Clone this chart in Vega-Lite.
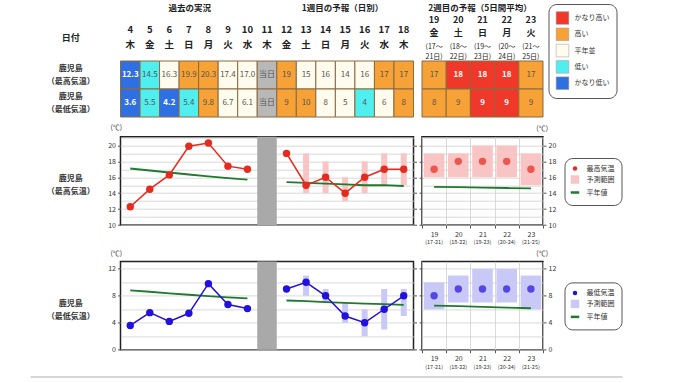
{
 "$schema": "https://vega.github.io/schema/vega-lite/v6.json",
 "autosize": {"type": "none"},
 "padding": {"left": 30, "top": 61, "right": 650, "bottom": 322},
 "background": "white",
 "config": {
  "font": "Noto Sans CJK JP",
  "view": {"stroke": null},
  "axis": {"labelFont": "Noto Sans CJK JP", "titleFont": "Noto Sans CJK JP", "labelColor": "#333", "tickColor": "#555", "titleColor": "#222", "gridColor": "#d0d0d0", "gridWidth": 0.8},
  "legend": {"labelFont": "Noto Sans CJK JP"},
  "title": {"font": "Noto Sans CJK JP"},
  "text": {"font": "Noto Sans CJK JP"}
 },
 "datasets": {
  "rowlab": [
   {"row": "max", "label": "鹿児島\n（最高気温）"},
   {"row": "min", "label": "鹿児島\n（最低気温）"}
  ],
  "cells1": [
   {"day": 4, "row": "max", "label": "12.3", "cat": "かなり低い"},
   {"day": 5, "row": "max", "label": "14.5", "cat": "低い"},
   {"day": 6, "row": "max", "label": "16.3", "cat": "平年並"},
   {"day": 7, "row": "max", "label": "19.9", "cat": "高い"},
   {"day": 8, "row": "max", "label": "20.3", "cat": "高い"},
   {"day": 9, "row": "max", "label": "17.4", "cat": "平年並"},
   {"day": 10, "row": "max", "label": "17.0", "cat": "平年並"},
   {"day": 11, "row": "max", "label": "当日", "cat": "当日"},
   {"day": 12, "row": "max", "label": "19", "cat": "高い"},
   {"day": 13, "row": "max", "label": "15", "cat": "平年並"},
   {"day": 14, "row": "max", "label": "16", "cat": "平年並"},
   {"day": 15, "row": "max", "label": "14", "cat": "平年並"},
   {"day": 16, "row": "max", "label": "16", "cat": "平年並"},
   {"day": 17, "row": "max", "label": "17", "cat": "高い"},
   {"day": 18, "row": "max", "label": "17", "cat": "高い"},
   {"day": 4, "row": "min", "label": "3.6", "cat": "かなり低い"},
   {"day": 5, "row": "min", "label": "5.5", "cat": "低い"},
   {"day": 6, "row": "min", "label": "4.2", "cat": "かなり低い"},
   {"day": 7, "row": "min", "label": "5.4", "cat": "低い"},
   {"day": 8, "row": "min", "label": "9.8", "cat": "高い"},
   {"day": 9, "row": "min", "label": "6.7", "cat": "平年並"},
   {"day": 10, "row": "min", "label": "6.1", "cat": "平年並"},
   {"day": 11, "row": "min", "label": "当日", "cat": "当日"},
   {"day": 12, "row": "min", "label": "9", "cat": "高い"},
   {"day": 13, "row": "min", "label": "10", "cat": "高い"},
   {"day": 14, "row": "min", "label": "8", "cat": "平年並"},
   {"day": 15, "row": "min", "label": "5", "cat": "平年並"},
   {"day": 16, "row": "min", "label": "4", "cat": "低い"},
   {"day": 17, "row": "min", "label": "6", "cat": "平年並"},
   {"day": 18, "row": "min", "label": "8", "cat": "高い"}
  ],
  "cells2": [
   {"day": 19, "row": "max", "label": "17", "cat": "高い"},
   {"day": 20, "row": "max", "label": "18", "cat": "かなり高い"},
   {"day": 21, "row": "max", "label": "18", "cat": "かなり高い"},
   {"day": 22, "row": "max", "label": "18", "cat": "かなり高い"},
   {"day": 23, "row": "max", "label": "17", "cat": "高い"},
   {"day": 19, "row": "min", "label": "8", "cat": "高い"},
   {"day": 20, "row": "min", "label": "9", "cat": "高い"},
   {"day": 21, "row": "min", "label": "9", "cat": "かなり高い"},
   {"day": 22, "row": "min", "label": "9", "cat": "かなり高い"},
   {"day": 23, "row": "min", "label": "9", "cat": "高い"}
  ],
  "max1": [
   {"day": 4, "part": "obs", "t": 12.3, "norm": 17.1},
   {"day": 5, "part": "obs", "t": 14.5, "norm": 16.85},
   {"day": 6, "part": "obs", "t": 16.3, "norm": 16.6},
   {"day": 7, "part": "obs", "t": 19.9, "norm": 16.35},
   {"day": 8, "part": "obs", "t": 20.3, "norm": 16.1},
   {"day": 9, "part": "obs", "t": 17.4, "norm": 15.9},
   {"day": 10, "part": "obs", "t": 17.0, "norm": 15.7},
   {"day": 12, "part": "fc", "t": 19, "norm": 15.4},
   {"day": 13, "part": "fc", "t": 15, "lo": 14, "hi": 19, "norm": 15.3},
   {"day": 14, "part": "fc", "t": 16, "lo": 14, "hi": 18, "norm": 15.2},
   {"day": 15, "part": "fc", "t": 14, "lo": 13, "hi": 16, "norm": 15.1},
   {"day": 16, "part": "fc", "t": 16, "lo": 14, "hi": 18, "norm": 15.0},
   {"day": 17, "part": "fc", "t": 17, "lo": 15, "hi": 19, "norm": 15.0},
   {"day": 18, "part": "fc", "t": 17, "lo": 15, "hi": 19, "norm": 14.9}
  ],
  "max2": [
   {"day": 19, "t": 17, "lo": 16, "hi": 19, "norm": 14.8},
   {"day": 20, "t": 18, "lo": 16, "hi": 19, "norm": 14.75},
   {"day": 21, "t": 18, "lo": 16, "hi": 20, "norm": 14.7},
   {"day": 22, "t": 18, "lo": 16, "hi": 20, "norm": 14.65},
   {"day": 23, "t": 17, "lo": 15, "hi": 19, "norm": 14.6}
  ],
  "min1": [
   {"day": 4, "part": "obs", "t": 3.6, "norm": 8.8},
   {"day": 5, "part": "obs", "t": 5.5, "norm": 8.6},
   {"day": 6, "part": "obs", "t": 4.2, "norm": 8.35},
   {"day": 7, "part": "obs", "t": 5.4, "norm": 8.15},
   {"day": 8, "part": "obs", "t": 9.8, "norm": 7.95},
   {"day": 9, "part": "obs", "t": 6.7, "norm": 7.75},
   {"day": 10, "part": "obs", "t": 6.1, "norm": 7.6},
   {"day": 12, "part": "fc", "t": 9, "norm": 7.3},
   {"day": 13, "part": "fc", "t": 10, "lo": 8, "hi": 11, "norm": 7.2},
   {"day": 14, "part": "fc", "t": 8, "lo": 7, "hi": 9, "norm": 7.05},
   {"day": 15, "part": "fc", "t": 5, "lo": 4, "hi": 7, "norm": 6.95},
   {"day": 16, "part": "fc", "t": 4, "lo": 2, "hi": 6, "norm": 6.85},
   {"day": 17, "part": "fc", "t": 6, "lo": 3, "hi": 9, "norm": 6.75},
   {"day": 18, "part": "fc", "t": 8, "lo": 5, "hi": 9, "norm": 6.65}
  ],
  "min2": [
   {"day": 19, "t": 8, "lo": 6, "hi": 10, "norm": 6.55},
   {"day": 20, "t": 9, "lo": 7, "hi": 11, "norm": 6.45},
   {"day": 21, "t": 9, "lo": 7, "hi": 12, "norm": 6.35},
   {"day": 22, "t": 9, "lo": 7, "hi": 12, "norm": 6.25},
   {"day": 23, "t": 9, "lo": 6, "hi": 11, "norm": 6.15}
  ]
 },
 "bounds": "flush",
 "columns": 3,
 "spacing": {"row": 35.7, "column": 8.5},
 "resolve": {"scale": {"color": "independent", "fill": "independent"}},
 "concat": [
  {
   "width": 81.5, "height": 39.3,
   "title": {"text": "日付", "orient": "top", "anchor": "middle", "baseline": "middle", "offset": 14, "fontSize": 9, "fontWeight": "bold", "color": "#222"},
   "data": {"name": "rowlab"},
   "mark": {"type": "text", "fontSize": 8, "fontWeight": "bold", "color": "#333", "lineBreak": "\n", "lineHeight": 13, "dy": -6.5},
   "encoding": {
    "y": {"field": "row", "type": "nominal", "scale": {"type": "band", "domain": ["max", "min"], "paddingInner": 0, "paddingOuter": 0, "range": [0, 56]}, "axis": null},
    "text": {"field": "label"}
   }
  },
  {
   "width": 293, "height": 39.3,
   "data": {"name": "cells1"},
   "resolve": {"axis": {"x": "independent"}},
   "layer": [
    {
     "mark": {"type": "rect", "stroke": "#8a6a40", "strokeWidth": 1},
     "encoding": {
      "x": {"field": "day", "type": "ordinal", "scale": {"domain": [4,5,6,7,8,9,10,11,12,13,14,15,16,17,18], "paddingInner": 0, "paddingOuter": 0},
        "axis": {"orient": "top", "labelAngle": 0, "labelExpr": "[datum.label, ['日','月','火','水','木','金','土'][datum.value % 7]]", "labelFontSize": 9.5, "labelFontWeight": "bold", "labelColor": "#222", "labelLineHeight": 15, "labelPadding": 27, "ticks": false, "domain": false, "grid": false,
          "title": "過去の実況", "titleX": 68.7, "titleY": -54, "titleAlign": "center", "titleBaseline": "middle", "titleFontSize": 8.5, "titleFontWeight": "bold"}},
      "y": {"field": "row", "type": "nominal", "scale": {"domain": ["max", "min"], "paddingInner": 0, "paddingOuter": 0, "range": [0, 56]}, "axis": null},
      "fill": {"field": "cat", "type": "nominal", "scale": {"domain": ["かなり高い", "高い", "平年並", "低い", "かなり低い", "当日"], "range": ["#f0382a", "#f7a236", "#fffcee", "#50efef", "#2f6fe4", "#b8b8b8"]}, "legend": null}
     }
    },
    {
     "transform": [{"filter": "datum.cat != 'かなり高い' && datum.cat != 'かなり低い'"}],
     "mark": {"type": "text", "fontSize": 8, "color": "#555"},
     "encoding": {
      "x": {"field": "day", "type": "ordinal",
        "axis": {"orient": "top", "labels": false, "ticks": false, "domain": false, "grid": false,
          "title": "1週目の予報（日別）", "titleX": 221.5, "titleY": -54, "titleAlign": "center", "titleBaseline": "middle", "titleFontSize": 8.5, "titleFontWeight": "bold"}},
      "y": {"field": "row", "type": "nominal", "axis": null},
      "text": {"field": "label"}
     }
    },
    {
     "transform": [{"filter": "datum.cat == 'かなり高い' || datum.cat == 'かなり低い'"}],
     "mark": {"type": "text", "fontSize": 8, "fontWeight": "bold", "color": "white"},
     "encoding": {
      "x": {"field": "day", "type": "ordinal", "axis": null},
      "y": {"field": "row", "type": "nominal", "axis": null},
      "text": {"field": "label"}
     }
    }
   ]
  },
  {
   "width": 121, "height": 39.3,
   "data": {"name": "cells2"},
   "resolve": {"axis": {"x": "independent"}},
   "layer": [
    {
     "mark": {"type": "rect", "stroke": "#8a6a40", "strokeWidth": 1},
     "encoding": {
      "x": {"field": "day", "type": "ordinal", "scale": {"domain": [19,20,21,22,23], "paddingInner": 0, "paddingOuter": 0},
        "axis": {"orient": "top", "labelAngle": 0, "labelExpr": "[datum.label, ['日','月','火','水','木','金','土'][datum.value % 7]]", "labelFontSize": 9, "labelFontWeight": "bold", "labelColor": "#222", "labelLineHeight": 12.5, "labelPadding": 36.5, "ticks": false, "domain": false, "grid": false,
          "title": "2週目の予報（5日間平均）", "titleX": 57.5, "titleY": -54, "titleAlign": "center", "titleBaseline": "middle", "titleFontSize": 8.5, "titleFontWeight": "bold"}},
      "y": {"field": "row", "type": "nominal", "scale": {"domain": ["max", "min"], "paddingInner": 0, "paddingOuter": 0, "range": [0, 56]}, "axis": null},
      "fill": {"field": "cat", "type": "nominal", "scale": {"domain": ["かなり高い", "高い", "平年並", "低い", "かなり低い", "当日"], "range": ["#f0382a", "#f7a236", "#fffcee", "#50efef", "#2f6fe4", "#b8b8b8"]},
        "legend": {"orient": "none", "legendX": 126.5, "legendY": -57, "title": null, "values": ["かなり高い", "高い", "平年並", "低い", "かなり低い"], "symbolType": "square", "symbolSize": 160, "symbolStrokeColor": "#999", "symbolStrokeWidth": 0.5, "labelFontSize": 7, "labelColor": "#333", "labelOffset": 5, "rowPadding": 0.3, "padding": 7, "strokeColor": "#555", "cornerRadius": 8, "fillColor": "white"}}
     }
    },
    {
     "transform": [{"filter": "datum.cat != 'かなり高い' && datum.cat != 'かなり低い'"}],
     "mark": {"type": "text", "fontSize": 8, "color": "#555"},
     "encoding": {
      "x": {"field": "day", "type": "ordinal",
        "axis": {"orient": "top", "labelAngle": 0, "labelExpr": "['(' + (datum.value - 2) + '〜', (datum.value + 2) + '日)']", "labelFontSize": 7, "labelColor": "#222", "labelLineHeight": 10, "labelPadding": 12, "ticks": false, "domain": false, "grid": false, "title": null}},
      "y": {"field": "row", "type": "nominal", "axis": null},
      "text": {"field": "label"}
     }
    },
    {
     "transform": [{"filter": "datum.cat == 'かなり高い' || datum.cat == 'かなり低い'"}],
     "mark": {"type": "text", "fontSize": 8, "fontWeight": "bold", "color": "white"},
     "encoding": {
      "x": {"field": "day", "type": "ordinal", "axis": null},
      "y": {"field": "row", "type": "nominal", "axis": null},
      "text": {"field": "label"}
     }
    }
   ]
  },
  {
   "width": 81.5, "height": 88.3,
   "data": {"values": [{"label": "鹿児島\n（最高気温）"}]},
   "mark": {"type": "text", "fontSize": 8, "fontWeight": "bold", "color": "#333", "lineBreak": "\n", "lineHeight": 13, "dy": -1.5},
   "encoding": {"text": {"field": "label"}}
  },
  {
   "width": 293, "height": 88.3,
   "view": {"stroke": "#222", "strokeWidth": 1.5},
   "title": {"text": "(℃)", "anchor": "start", "frame": "group", "dx": -10, "offset": -1, "baseline": "bottom", "fontSize": 7, "fontWeight": "normal", "color": "#333"},
   "resolve": {"axis": {"y": "independent"}},
   "layer": [
    {
     "data": {"values": [{"day": 11}]},
     "mark": {"type": "rect", "color": "#a9a9a9"},
     "encoding": {
      "x": {"field": "day", "type": "ordinal", "scale": {"domain": [4,5,6,7,8,9,10,11,12,13,14,15,16,17,18], "paddingInner": 0, "paddingOuter": 0},
        "axis": {"orient": "bottom", "title": null, "labelAngle": 0, "tickBand": "extent", "grid": true, "domain": false, "tickSize": 3, "labelPadding": 2, "labelFontSize": 7}}
     }
    },
    {
     "data": {"name": "max1"},
     "mark": {"type": "bar", "color": "#f9c4c4", "width": 6},
     "encoding": {
      "x": {"field": "day", "type": "ordinal", "axis": null},
      "y": {"field": "lo", "type": "quantitative", "scale": {"domain": [10, 21.1], "nice": false, "zero": false},
        "axis": {"orient": "left", "title": null, "values": [10,12,14,16,18,20], "grid": false, "domain": false, "tickSize": 3, "labelPadding": 2, "labelFontSize": 7, "labelOverlap": false, "labelFlush": false}},
      "y2": {"field": "hi"}
     }
    },
    {
     "data": {"name": "max1"},
     "mark": {"type": "line", "color": "#1f7a2e", "strokeWidth": 1.8},
     "encoding": {
      "x": {"field": "day", "type": "ordinal", "axis": null},
      "y": {"field": "norm", "type": "quantitative", "axis": {"orient": "right", "title": null, "labels": false, "grid": false, "domain": false, "tickSize": 3, "values": [10,12,14,16,18,20]}},
      "detail": {"field": "part"}
     }
    },
    {
     "data": {"name": "max1"},
     "mark": {"type": "line", "color": "#e62a1e", "strokeWidth": 1.5, "point": {"filled": true, "size": 55, "color": "#e62a1e"}},
     "encoding": {
      "x": {"field": "day", "type": "ordinal", "axis": null},
      "y": {"field": "t", "type": "quantitative", "axis": {"orient": "left", "title": null, "labels": false, "ticks": false, "domain": false, "grid": true, "values": [10,11,12,13,14,15,16,17,18,19,20,21]}},
      "detail": {"field": "part"}
     }
    }
   ]
  },
  {
   "width": 121, "height": 88.3,
   "view": {"stroke": "#222", "strokeWidth": 1.5},
   "title": {"text": "(℃)", "anchor": "end", "frame": "group", "dx": 5, "offset": -2, "baseline": "bottom", "fontSize": 7, "fontWeight": "normal", "color": "#333"},
   "data": {"name": "max2"},
   "resolve": {"axis": {"x": "independent", "y": "independent"}},
   "layer": [
    {
     "mark": {"type": "bar", "width": {"band": 0.85}},
     "encoding": {
      "x": {"field": "day", "type": "ordinal", "scale": {"domain": [19,20,21,22,23], "paddingInner": 0, "paddingOuter": 0},
        "axis": {"orient": "bottom", "title": null, "labelAngle": 0, "tickBand": "extent", "grid": true, "domain": false, "tickSize": 3, "labelPadding": 2, "labelFontSize": 7}},
      "y": {"field": "lo", "type": "quantitative", "scale": {"domain": [10, 21.1], "nice": false, "zero": false},
        "axis": {"orient": "right", "title": null, "values": [10,12,14,16,18,20], "grid": false, "domain": false, "tickSize": 3, "labelPadding": 2, "labelFontSize": 7, "labelOverlap": false, "labelFlush": false}},
      "y2": {"field": "hi"},
      "color": {"datum": "予測範囲", "type": "nominal", "scale": {"domain": ["最高気温", "予測範囲", "平年値"], "range": ["#e62a1e", "#f9c4c4", "#1f7a2e"]},
        "legend": {"orient": "none", "legendX": 142.5, "legendY": 21.3, "title": null, "labelFontSize": 7, "labelColor": "#333", "labelOffset": 8, "rowPadding": 3, "padding": 7, "strokeColor": "#555", "cornerRadius": 8, "fillColor": "white", "symbolSize": 72,
          "encode": {"symbols": {"update": {
            "shape": {"signal": "datum.value == '予測範囲' ? 'square' : datum.value == '平年値' ? 'stroke' : 'circle'"},
            "size": {"signal": "datum.value == '最高気温' ? 20 : 72"},
            "stroke": {"signal": "datum.value == '平年値' ? '#1f7a2e' : 'transparent'"},
            "strokeWidth": {"signal": "datum.value == '平年値' ? 2.5 : 0"}
          }}}}}
     }
    },
    {
     "mark": {"type": "line", "strokeWidth": 1.8},
     "encoding": {
      "x": {"field": "day", "type": "ordinal",
        "axis": {"orient": "bottom", "title": null, "labelAngle": 0, "labelExpr": "'(' + (datum.value - 2) + '-' + (datum.value + 2) + ')'", "labelFontSize": 5.5, "labelPadding": 14.5, "ticks": false, "domain": false, "grid": false}},
      "y": {"field": "norm", "type": "quantitative", "axis": {"orient": "left", "title": null, "labels": false, "grid": false, "domain": false, "tickSize": 3, "values": [10,12,14,16,18,20]}},
      "color": {"datum": "平年値", "type": "nominal"}
     }
    },
    {
     "mark": {"type": "point", "filled": true, "size": 55},
     "encoding": {
      "x": {"field": "day", "type": "ordinal", "axis": null},
      "y": {"field": "t", "type": "quantitative", "axis": {"orient": "right", "title": null, "labels": false, "ticks": false, "domain": false, "grid": true, "values": [10,11,12,13,14,15,16,17,18,19,20,21]}},
      "color": {"datum": "最高気温", "type": "nominal"}
     }
    }
   ]
  },
  {
   "width": 81.5, "height": 88.3,
   "layer": [
    {
     "data": {"values": [{"label": "鹿児島\n（最低気温）"}]},
     "mark": {"type": "text", "fontSize": 8, "fontWeight": "bold", "color": "#333", "lineBreak": "\n", "lineHeight": 13, "dy": -1.5},
     "encoding": {"text": {"field": "label"}}
    },
    {
     "data": {"values": [{"from": 0, "to": 1}]},
     "mark": {"type": "rule", "color": "transparent"},
     "encoding": {
      "x": {"field": "from", "type": "quantitative", "scale": {"domain": [0, 1], "range": [0, 592]},
        "axis": {"orient": "bottom", "offset": 26.7, "labels": false, "ticks": false, "grid": false, "title": null, "domainColor": "#c8c8c8", "domainWidth": 1.5}},
      "x2": {"field": "to"}
     }
    }
   ]
  },
  {
   "width": 293, "height": 88.3,
   "view": {"stroke": "#222", "strokeWidth": 1.5},
   "title": {"text": "(℃)", "anchor": "start", "frame": "group", "dx": -10, "offset": -3, "baseline": "bottom", "fontSize": 7, "fontWeight": "normal", "color": "#333"},
   "resolve": {"axis": {"y": "independent"}},
   "layer": [
    {
     "data": {"values": [{"day": 11}]},
     "mark": {"type": "rect", "color": "#a9a9a9"},
     "encoding": {
      "x": {"field": "day", "type": "ordinal", "scale": {"domain": [4,5,6,7,8,9,10,11,12,13,14,15,16,17,18], "paddingInner": 0, "paddingOuter": 0},
        "axis": {"orient": "bottom", "title": null, "labelAngle": 0, "tickBand": "extent", "grid": true, "domain": false, "tickSize": 3, "labelPadding": 2, "labelFontSize": 7}}
     }
    },
    {
     "data": {"name": "min1"},
     "mark": {"type": "bar", "color": "#c9c9f7", "width": 6},
     "encoding": {
      "x": {"field": "day", "type": "ordinal", "axis": null},
      "y": {"field": "lo", "type": "quantitative", "scale": {"domain": [0, 13.1], "nice": false, "zero": false},
        "axis": {"orient": "left", "title": null, "values": [0,4,8,12], "grid": false, "domain": false, "tickSize": 3, "labelPadding": 2, "labelFontSize": 7, "labelOverlap": false, "labelFlush": false}},
      "y2": {"field": "hi"}
     }
    },
    {
     "data": {"name": "min1"},
     "mark": {"type": "line", "color": "#1f7a2e", "strokeWidth": 1.8},
     "encoding": {
      "x": {"field": "day", "type": "ordinal", "axis": null},
      "y": {"field": "norm", "type": "quantitative", "axis": {"orient": "right", "title": null, "labels": false, "grid": false, "domain": false, "tickSize": 3, "values": [0,4,8,12]}},
      "detail": {"field": "part"}
     }
    },
    {
     "data": {"name": "min1"},
     "mark": {"type": "line", "color": "#2210dc", "strokeWidth": 1.5, "point": {"filled": true, "size": 55, "color": "#2210dc"}},
     "encoding": {
      "x": {"field": "day", "type": "ordinal", "axis": null},
      "y": {"field": "t", "type": "quantitative", "axis": {"orient": "left", "title": null, "labels": false, "ticks": false, "domain": false, "grid": true, "values": [0,2,4,6,8,10,12]}},
      "detail": {"field": "part"}
     }
    }
   ]
  },
  {
   "width": 121, "height": 88.3,
   "view": {"stroke": "#222", "strokeWidth": 1.5},
   "title": {"text": "(℃)", "anchor": "end", "frame": "group", "dx": 5, "offset": -3, "baseline": "bottom", "fontSize": 7, "fontWeight": "normal", "color": "#333"},
   "data": {"name": "min2"},
   "resolve": {"axis": {"x": "independent", "y": "independent"}},
   "layer": [
    {
     "mark": {"type": "bar", "width": {"band": 0.85}},
     "encoding": {
      "x": {"field": "day", "type": "ordinal", "scale": {"domain": [19,20,21,22,23], "paddingInner": 0, "paddingOuter": 0},
        "axis": {"orient": "bottom", "title": null, "labelAngle": 0, "tickBand": "extent", "grid": true, "domain": false, "tickSize": 3, "labelPadding": 2, "labelFontSize": 7}},
      "y": {"field": "lo", "type": "quantitative", "scale": {"domain": [0, 13.1], "nice": false, "zero": false},
        "axis": {"orient": "right", "title": null, "values": [0,4,8,12], "grid": false, "domain": false, "tickSize": 3, "labelPadding": 2, "labelFontSize": 7, "labelOverlap": false, "labelFlush": false}},
      "y2": {"field": "hi"},
      "color": {"datum": "予測範囲", "type": "nominal", "scale": {"domain": ["最低気温", "予測範囲", "平年値"], "range": ["#2210dc", "#c9c9f7", "#1f7a2e"]},
        "legend": {"orient": "none", "legendX": 142.5, "legendY": 21, "title": null, "labelFontSize": 7, "labelColor": "#333", "labelOffset": 8, "rowPadding": 3, "padding": 7, "strokeColor": "#555", "cornerRadius": 8, "fillColor": "white", "symbolSize": 72,
          "encode": {"symbols": {"update": {
            "shape": {"signal": "datum.value == '予測範囲' ? 'square' : datum.value == '平年値' ? 'stroke' : 'circle'"},
            "size": {"signal": "datum.value == '最低気温' ? 20 : 72"},
            "stroke": {"signal": "datum.value == '平年値' ? '#1f7a2e' : 'transparent'"},
            "strokeWidth": {"signal": "datum.value == '平年値' ? 2.5 : 0"}
          }}}}}
     }
    },
    {
     "mark": {"type": "line", "strokeWidth": 1.8},
     "encoding": {
      "x": {"field": "day", "type": "ordinal",
        "axis": {"orient": "bottom", "title": null, "labelAngle": 0, "labelExpr": "'(' + (datum.value - 2) + '-' + (datum.value + 2) + ')'", "labelFontSize": 5.5, "labelPadding": 14.5, "ticks": false, "domain": false, "grid": false}},
      "y": {"field": "norm", "type": "quantitative", "axis": {"orient": "left", "title": null, "labels": false, "grid": false, "domain": false, "tickSize": 3, "values": [0,4,8,12]}},
      "color": {"datum": "平年値", "type": "nominal"}
     }
    },
    {
     "mark": {"type": "point", "filled": true, "size": 55},
     "encoding": {
      "x": {"field": "day", "type": "ordinal", "axis": null},
      "y": {"field": "t", "type": "quantitative", "axis": {"orient": "right", "title": null, "labels": false, "ticks": false, "domain": false, "grid": true, "values": [0,2,4,6,8,10,12]}},
      "color": {"datum": "最低気温", "type": "nominal"}
     }
    }
   ]
  }
 ]
}
